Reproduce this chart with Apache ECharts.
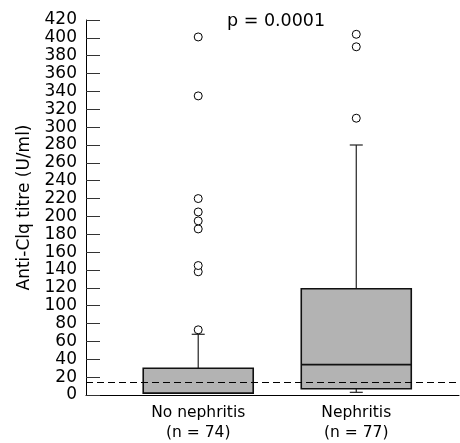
<!DOCTYPE html>
<html>
<head>
<meta charset="utf-8">
<script src="https://cdn.jsdelivr.net/npm/echarts@6/dist/echarts.min.js"></script>
<style>
html,body{margin:0;padding:0;background:#fff;}
#chart{width:460px;height:443px;}
</style>
</head>
<body>
<div id="chart"></div>
<script>
// ---- data ----
const categories = ['No nephritis', 'Nephritis'];
const sampleSizes = [74, 77];
// [min, Q1, median, Q3, max] (whisker ends)
const noNephritisBox = [2, 2, 2, 30, 68];
const nephritisBox = [3, 7, 34, 119, 280];
const noNephritisOutliers = [73, 138, 145, 186, 195, 205, 220, 335, 401];
const nephritisOutliers = [310, 390, 404];
const cutoffValue = 14;
const pValueText = 'p = 0.0001';
const yTickMin = 0, yTickMax = 420, yTickStep = 20;

// ---- build ----
const boxes = [noNephritisBox, nephritisBox];
const boxData = boxes.map((b, i) => [i + 1].concat(b));
const outlierData = []
  .concat(noNephritisOutliers.map(v => [1, v]))
  .concat(nephritisOutliers.map(v => [2, v]));

const chart = echarts.init(document.getElementById('chart'), null, {renderer: 'canvas'});

function renderBox(params, api) {
  const x = api.value(0);
  const vMin = api.value(1), q1 = api.value(2), med = api.value(3), q3 = api.value(4), vMax = api.value(5);
  const halfW = api.size([1, 0])[0] * 0.348;
  const cap = 6.5;
  const pMin = api.coord([x, vMin]);
  const pQ1 = api.coord([x, q1]);
  const pMed = api.coord([x, med]);
  const pQ3 = api.coord([x, q3]);
  const pMax = api.coord([x, vMax]);
  const cx = pQ1[0];
  const lineStyle = {stroke: '#222', lineWidth: 1.2, fill: null};
  const children = [];
  if (vMax > q3) {
    children.push({type: 'line', shape: {x1: cx, y1: pQ3[1], x2: cx, y2: pMax[1]}, style: lineStyle});
    children.push({type: 'line', shape: {x1: cx - cap, y1: pMax[1], x2: cx + cap, y2: pMax[1]}, style: lineStyle});
  }
  if (vMin < q1) {
    children.push({type: 'line', shape: {x1: cx, y1: pQ1[1], x2: cx, y2: pMin[1]}, style: lineStyle});
    children.push({type: 'line', shape: {x1: cx - cap, y1: pMin[1], x2: cx + cap, y2: pMin[1]}, style: lineStyle});
  }
  children.push({
    type: 'rect',
    shape: {x: cx - halfW, y: pQ3[1], width: 2 * halfW, height: pQ1[1] - pQ3[1]},
    style: {fill: '#b3b3b3', stroke: '#111', lineWidth: 1.6}
  });
  children.push({type: 'line', shape: {x1: cx - halfW, y1: pMed[1], x2: cx + halfW, y2: pMed[1]},
    style: {stroke: '#111', lineWidth: 1.6}});
  return {type: 'group', children: children};
}

const option = {
  backgroundColor: '#fff',
  animation: false,
  textStyle: {fontFamily: 'DejaVu Sans', color: '#000'},
  title: {
    text: pValueText,
    left: 227,
    top: 12,
    padding: 0,
    textStyle: {fontFamily: 'DejaVu Sans', fontSize: 17.5, fontWeight: 'normal', color: '#000'}
  },
  grid: {left: 86, right: 1, top: 20, bottom: 47, containLabel: false},
  xAxis: {
    type: 'value',
    min: 0.29,
    max: 2.65,
    splitLine: {show: false},
    axisTick: {show: false},
    axisLine: {show: true, onZero: false, lineStyle: {color: '#000', width: 1}},
    axisLabel: {
      customValues: [1, 2],
      formatter: v => categories[Math.round(v) - 1] + '\n(n = ' + sampleSizes[Math.round(v) - 1] + ')',
      fontSize: 15.5,
      lineHeight: 20,
      margin: 8,
      color: '#000',
      fontFamily: 'DejaVu Sans'
    }
  },
  yAxis: {
    type: 'value',
    min: yTickMin,
    max: yTickMax,
    interval: yTickStep,
    name: 'Anti-Clq titre (U/ml)',
    nameLocation: 'middle',
    nameGap: 53,
    nameTextStyle: {fontSize: 17, color: '#000', fontFamily: 'DejaVu Sans'},
    splitLine: {show: false},
    axisLine: {show: true, lineStyle: {color: '#000', width: 1}},
    axisTick: {show: true, inside: true, length: 14, lineStyle: {color: '#333', width: 1}},
    axisLabel: {fontSize: 17, color: '#000', margin: 9, fontFamily: 'DejaVu Sans'}
  },
  series: [
    {
      type: 'custom',
      renderItem: renderBox,
      data: boxData,
      encode: {x: 0, y: [1, 2, 3, 4, 5]},
      z: 2
    },
    {
      type: 'scatter',
      data: outlierData,
      symbol: 'circle',
      symbolSize: 8,
      itemStyle: {color: '#fff', borderColor: '#000', borderWidth: 1, opacity: 1},
      z: 3
    },
    {
      type: 'line',
      data: [],
      z: 5,
      markLine: {
        silent: true,
        symbol: ['none', 'none'],
        label: {show: false},
        lineStyle: {color: '#000', type: [7, 4], width: 1},
        data: [{yAxis: cutoffValue}]
      }
    }
  ]
};
chart.setOption(option);
</script>
</body>
</html>
